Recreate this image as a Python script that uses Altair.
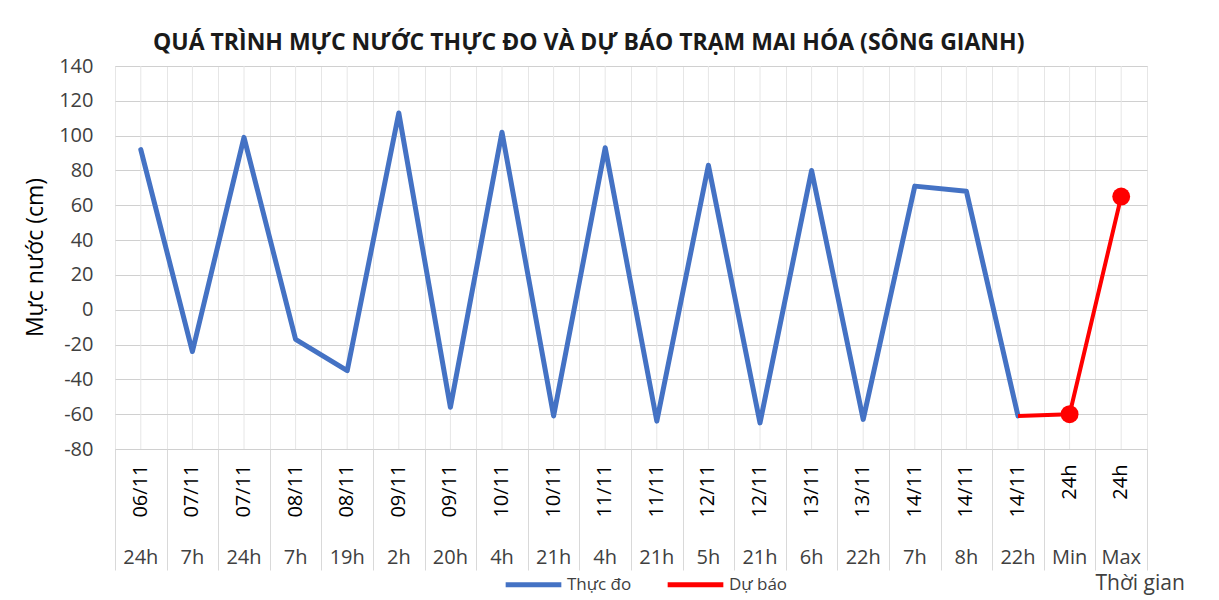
import json
import altair as alt
import pandas as pd

# ---------------- data ----------------
dates = ["06/11", "07/11", "07/11", "08/11", "08/11", "09/11", "09/11", "10/11", "10/11", "11/11",
         "11/11", "12/11", "12/11", "13/11", "13/11", "14/11", "14/11", "14/11", "24h", "24h"]
hours = ["24h", "7h", "24h", "7h", "19h", "2h", "20h", "4h", "21h", "4h",
         "21h", "5h", "21h", "6h", "22h", "7h", "8h", "22h", "Min", "Max"]
observed = [92, -24, 99, -17, -35, 113, -56, 102, -61, 93,
            -64, 83, -65, 80, -63, 71, 68, -61, None, None]
forecast = [None] * 17 + [-61, -60, 65]
forecast_marker = [None] * 18 + [-60, 65]
y_ticks = [-80, -60, -40, -20, 0, 20, 40, 60, 80, 100, 120, 140]

SER_OBS = "Thực đo"
SER_FC = "Dự báo"

rows = []
for i in range(len(hours)):
    if observed[i] is not None:
        rows.append({"i": i, "v": observed[i], "s": SER_OBS})
    if forecast[i] is not None:
        rows.append({"i": i, "v": forecast[i], "s": SER_FC})
df = pd.DataFrame(rows)
df_cat = pd.DataFrame({"i": list(range(len(hours)))})
df_mark = pd.DataFrame([{"i": i, "v": v, "s": SER_FC} for i, v in enumerate(forecast_marker) if v is not None])

FONT = "Open Sans"
TXT = "#404040"
BLUE = "#4472C4"
RED = "#FF0000"

W, H = 1032, 383
cat_domain = list(range(len(hours)))
xscale = alt.Scale(type="band", domain=cat_domain, paddingInner=0, paddingOuter=0)
yscale = alt.Scale(domain=[-80, 140], nice=False, zero=False)

date_expr = json.dumps(dates, ensure_ascii=False) + "[datum.value]"
hour_expr = json.dumps(hours, ensure_ascii=False) + "[datum.value]"

y_axis = alt.Axis(values=y_ticks, labelExpr="'' + datum.value", grid=True, gridColor="#d0d0d0",
                  domain=False, ticks=False, tickSize=0, labelFont=FONT, labelFontSize=20,
                  labelColor=TXT, labelPadding=22,
                  title="Mực nước (cm)", titleFont=FONT, titleFontSize=23, titleFontWeight="normal",
                  titleColor="#000000", titleAngle=-90, titleX=-80, titleY=191,
                  titleAlign="center", titleBaseline="middle")

date_axis = alt.Axis(orient="bottom", labelExpr=date_expr, labelAngle=-90, labelAlign="right",
                     labelBaseline="middle", labelPadding=15, labelFont=FONT, labelFontSize=20,
                     labelColor="#000000", ticks=False, tickSize=0, grid=False, domain=True,
                     domainColor="#d0d0d0", labelOverlap=False,
                     title="Thời gian", titleFont=FONT, titleFontSize=21, titleFontWeight="normal",
                     titleColor=TXT, titleX=980, titleY=140, titleAlign="left",
                     titleBaseline="alphabetic")

hour_axis = alt.Axis(orient="bottom", labelExpr=hour_expr, labelAngle=0, labelAlign="center",
                     labelBaseline="top", labelPadding=98, labelFont=FONT, labelFontSize=20,
                     labelColor=TXT, ticks=False, tickSize=0, grid=False, domain=False,
                     labelOverlap=False, title=None)

sep_axis = alt.Axis(orient="bottom", labels=False, ticks=True, tickBand="extent", tickSize=121,
                    tickColor="#d9d9d9", grid=True, gridColor="#e6e6e6", domain=False, title=None)

legend = alt.Legend(orient="none", legendX=388, legendY=488, direction="horizontal", title=None,
                    symbolType="stroke", symbolSize=3100, symbolStrokeWidth=5,
                    labelFont=FONT, labelFontSize=17, labelColor=TXT, labelOffset=3,
                    columnPadding=25)

color = alt.Color("s:N", scale=alt.Scale(domain=[SER_OBS, SER_FC], range=[BLUE, RED]), legend=legend)

center_rules = alt.Chart(df_cat).mark_rule(color="#e6e6e6", strokeWidth=1).encode(
    x=alt.X("i:O", scale=xscale, axis=date_axis, bandPosition=0.5)
)

obs_line = alt.Chart(df).transform_filter(alt.datum.s == SER_OBS).mark_line(
    strokeWidth=5, strokeJoin="round", strokeCap="round"
).encode(
    x=alt.X("i:O", scale=xscale, axis=hour_axis, bandPosition=0.5),
    y=alt.Y("v:Q", scale=yscale, axis=y_axis),
    color=color,
)

fc_line = alt.Chart(df).transform_filter(alt.datum.s == SER_FC).mark_line(
    strokeWidth=4, strokeJoin="round"
).encode(
    x=alt.X("i:O", scale=xscale, axis=sep_axis, bandPosition=0.5),
    y=alt.Y("v:Q", scale=yscale, axis=y_axis),
    color=color,
)

fc_pts = alt.Chart(df_mark).mark_point(filled=True, size=320, opacity=1).encode(
    x=alt.X("i:O", scale=xscale, axis=None, bandPosition=0.5),
    y=alt.Y("v:Q", scale=yscale, axis=y_axis),
    color=alt.Color("s:N", scale=alt.Scale(domain=[SER_OBS, SER_FC], range=[BLUE, RED]), legend=None),
)

chart = alt.layer(center_rules, obs_line, fc_line, fc_pts).resolve_axis(x="independent").properties(
    width=W, height=H,
    title=alt.TitleParams(
        "QUÁ TRÌNH MỰC NƯỚC THỰC ĐO VÀ DỰ BÁO TRẠM MAI HÓA (SÔNG GIANH)",
        font=FONT, fontSize=23, fontWeight="bold", color="#1a1a1a",
        anchor="start", frame="group", dx=38, dy=23, offset=6, baseline="alphabetic",
    ),
    autosize=alt.AutoSizeParams(type="none"),
    padding={"left": 107, "top": 58, "right": 50, "bottom": 150},
).configure_view(stroke=None).configure(background="white")

chart.save("out.html", embed_options={"renderer": "svg", "actions": False})
